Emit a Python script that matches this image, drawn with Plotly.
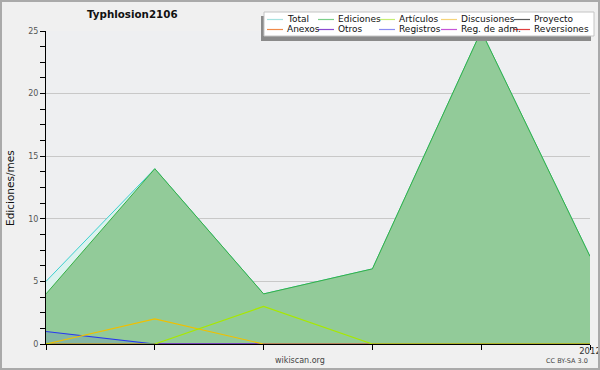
import plotly.graph_objects as go

# ---------------- data ----------------
months = ["2011-08", "2011-09", "2011-10", "2011-11", "2011-12", "2012-01"]
tick_labels = ["", "", "", "", "", "2012"]

total = [5, 14, 4, 6, 25, 7]
ediciones = [4, 14, 4, 6, 25, 7]
articulos = [0, 0, 3, 0, 0, 0]
discusiones = [0, 2, 0, 0, 0, 0]
proyecto = [0, 0, 0, 0, 0, 0]
anexos = [0, 0, 0, 0, 0, 0]
otros = [0, 0, 0, 0, 0, 0]
registros = [1, 0, 0, 0, 0, 0]
reg_adm = [0, 0, 0, 0, 0, 0]
reversiones = [0, 0, 0, 0, 0, 0]

legend_names = ["Total", "Ediciones", "Artículos", "Discusiones", "Proyecto",
                "Anexos", "Otros", "Registros", "Reg. de adm.", "Reversiones"]
legend_colors = ["#a6e2e0", "#7ccf8a", "#c6ee74", "#f6d47a", "#5a5a5a",
                 "#f08a4a", "#8a4ad0", "#8a8af2", "#c656d8", "#e04040"]

# ---------------- geometry helpers ----------------
W, H = 600, 370
ML, MR, MT, MB = 46, 10, 31, 26
PW, PH = W - ML - MR, H - MT - MB


def px(x):
    return (x - ML) / PW


def py(y):
    return (H - MB - y) / PH


FONT = "DejaVu Sans"

fig = go.Figure()

# Total (light fill) then Ediciones (green fill) on top
fig.add_trace(go.Scatter(x=months, y=total, name="Total", mode="lines",
                         line=dict(color="#3ccfcf", width=1),
                         fill="tozeroy", fillcolor="#dcf2ee", showlegend=False))
fig.add_trace(go.Scatter(x=months, y=ediciones, name="Ediciones", mode="lines",
                         line=dict(color="#35b045", width=1),
                         fill="tozeroy", fillcolor="#92cb99", showlegend=False))
zero_series = [("Proyecto", proyecto, "#5a5a5a"), ("Anexos", anexos, "#f08a4a"),
               ("Otros", otros, "#8a4ad0"), ("Reg. de adm.", reg_adm, "#c656d8"),
               ("Reversiones", reversiones, "#e04040")]
for nm, vals, col in zero_series:
    fig.add_trace(go.Scatter(x=months, y=vals, name=nm, mode="lines",
                             line=dict(color=col, width=1), showlegend=False))
fig.add_trace(go.Scatter(x=months, y=registros, name="Registros", mode="lines",
                         line=dict(color="#2838f0", width=1.2),
                         fill="tozeroy", fillcolor="rgba(40,56,240,0.13)",
                         showlegend=False))
fig.add_trace(go.Scatter(x=months, y=discusiones, name="Discusiones", mode="lines",
                         line=dict(color="#f0c000", width=1.2), showlegend=False))
fig.add_trace(go.Scatter(x=months, y=articulos, name="Artículos", mode="lines",
                         line=dict(color="#a8e800", width=1.2), showlegend=False))

fig.update_layout(
    width=W, height=H,
    margin=dict(l=ML, r=MR, t=MT, b=MB, pad=0, autoexpand=False),
    paper_bgcolor="#f0f0f0",
    plot_bgcolor="#eeeff1",
    font=dict(family=FONT, size=9, color="#333333"),
    showlegend=False,
)

fig.update_xaxes(
    type="category", range=[0, len(months) - 1],
    tickvals=months, ticktext=tick_labels,
    showgrid=False, zeroline=False, automargin=False,
    showline=True, linecolor="black", linewidth=1,
    ticks="outside", ticklen=5, tickcolor="black", tickwidth=1,
    tickfont=dict(family=FONT, size=8.5, color="#333333"),
    ticklabelstandoff=-6,
)
fig.update_yaxes(
    range=[0, 25], dtick=5, tick0=0,
    showgrid=True, gridcolor="#c8c8c8", gridwidth=1,
    zeroline=False, automargin=False,
    showline=True, linecolor="black", linewidth=1,
    ticks="outside", ticklen=5, tickcolor="black", tickwidth=1,
    tickfont=dict(family=FONT, size=8, color="#555555"),
    minor=dict(dtick=1.25, tick0=0, ticks="outside", ticklen=5,
               tickcolor="black", tickwidth=1, showgrid=False),
)

shapes = []
annotations = []

# outer border
shapes.append(dict(type="rect", xref="paper", yref="paper",
                   x0=px(1), x1=px(W - 1), y0=py(1), y1=py(H - 1),
                   line=dict(color="#aaaaaa", width=2), fillcolor="rgba(0,0,0,0)"))

# legend box with shadow
bx0, bx1, by0, by1 = 264, 594, 12, 36
shapes.append(dict(type="rect", xref="paper", yref="paper",
                   x0=px(bx0 - 3), x1=px(bx1 - 3), y0=py(by0 + 4), y1=py(by1 + 5),
                   line=dict(width=0), fillcolor="#8a8a8a"))
shapes.append(dict(type="rect", xref="paper", yref="paper",
                   x0=px(bx0), x1=px(bx1), y0=py(by0), y1=py(by1),
                   line=dict(color="#c4c4c4", width=1), fillcolor="#ffffff"))

col_x = [267, 318, 379, 441, 514]
row_y = [19.5, 29.5]
for i, (nm, col) in enumerate(zip(legend_names, legend_colors)):
    r, c = divmod(i, 5)
    x0 = col_x[c]
    y = row_y[r]
    shapes.append(dict(type="line", xref="paper", yref="paper",
                       x0=px(x0), x1=px(x0 + 16), y0=py(y), y1=py(y),
                       line=dict(color=col, width=1.2)))
    annotations.append(dict(xref="paper", yref="paper", x=px(x0 + 18), y=py(y - 0.5),
                            xanchor="left", yanchor="middle", showarrow=False,
                            text=nm, font=dict(family=FONT, size=9, color="#111111")))

# title
annotations.append(dict(xref="paper", yref="paper", x=px(132), y=py(14),
                        xanchor="center", yanchor="middle", showarrow=False,
                        text="<b>Typhlosion2106</b>",
                        font=dict(family=FONT, size=10.3, color="#111111")))
# y-axis title
annotations.append(dict(xref="paper", yref="paper", x=px(10), y=py(188),
                        xanchor="center", yanchor="middle", showarrow=False,
                        textangle=-90, text="Ediciones/mes",
                        font=dict(family=FONT, size=10.5, color="#111111")))
# footer texts
annotations.append(dict(xref="paper", yref="paper", x=px(300), y=py(360),
                        xanchor="center", yanchor="middle", showarrow=False,
                        text="wikiscan.org",
                        font=dict(family=FONT, size=8, color="#444444")))
annotations.append(dict(xref="paper", yref="paper", x=px(590), y=py(361),
                        xanchor="right", yanchor="middle", showarrow=False,
                        text="CC BY-SA 3.0",
                        font=dict(family=FONT, size=6.5, color="#444444")))

fig.update_layout(shapes=shapes, annotations=annotations)

fig.write_html("out.html",
               config={"displayModeBar": False},
               post_script="document.body.style.margin='0px';"
                           "document.body.style.overflow='hidden';")
